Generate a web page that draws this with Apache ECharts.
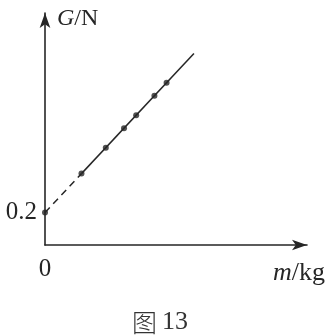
<!DOCTYPE html>
<html>
<head>
<meta charset="utf-8">
<script src="https://cdn.jsdelivr.net/npm/echarts@6/dist/echarts.min.js"></script>
<style>html,body{margin:0;padding:0;background:#fff}#c{width:329px;height:336px}</style>
</head>
<body>
<div id="c"></div>
<script>
// measured points (m in kg, G in N)
var massValues = [0.12, 0.20, 0.26, 0.30, 0.36, 0.40];
var weightValues = [0.44, 0.60, 0.72, 0.80, 0.92, 1.00];
var intercept = [0, 0.2];
var lineEnd = [0.49, 1.18];
var yTickLabel = '0.2';
var xTickLabel = '0';
var caption = '图 13';

var ink = '#262626';
var serif = '"Liberation Serif","DejaVu Serif",serif';
var pts = massValues.map(function (m, i) { return [m, weightValues[i]]; });
var capParts = caption.split(' ');

var chart = echarts.init(document.getElementById('c'), null, {renderer: 'canvas'});
chart.setOption({
  backgroundColor: '#fff',
  animation: false,
  title: {
    text: '{a|' + capParts[0] + '} {b|' + capParts[1] + '}',
    left: 127, top: 304,
    textStyle: {
      fontWeight: 'normal',
      rich: {
        a: {fontFamily: '"Noto Sans CJK SC"', fontSize: 25, fontWeight: 300, color: '#333'},
        b: {fontFamily: serif, fontSize: 26, fontWeight: 'normal', color: '#333'}
      }
    }
  },
  grid: {left: 45, right: 22, top: 13, bottom: 91, containLabel: false, outerBoundsMode: 'none'},
  xAxis: {
    type: 'value', min: 0, max: 0.862, interval: 0.2,
    axisLine: {show: true, symbol: ['none', 'arrow'], symbolSize: [8, 15], lineStyle: {color: ink, width: 1.6}},
    axisTick: {show: false}, splitLine: {show: false},
    axisLabel: {
      showMinLabel: true,
      formatter: function (v) { return v === 0 ? xTickLabel : ''; },
      margin: 12, fontFamily: serif, fontSize: 25, color: ink
    },
    name: '{i|m}/kg', nameLocation: 'end', nameGap: 0,
    nameTextStyle: {
      fontFamily: serif, fontSize: 26, color: ink,
      align: 'right', verticalAlign: 'top', padding: [15, -18, 0, 0],
      rich: {i: {fontFamily: serif, fontStyle: 'italic', fontSize: 26, color: ink}}
    }
  },
  yAxis: {
    type: 'value', min: 0, max: 1.43, interval: 0.2,
    axisLine: {show: true, symbol: ['none', 'arrow'], symbolSize: [8, 15], lineStyle: {color: ink, width: 1.6}},
    axisTick: {show: false}, splitLine: {show: false},
    axisLabel: {
      formatter: function (v) { return Math.abs(v - 0.2) < 1e-9 ? yTickLabel : ''; },
      margin: 8, fontFamily: serif, fontSize: 25, color: ink
    },
    name: '{i|G}/N', nameLocation: 'end', nameGap: 0,
    nameTextStyle: {
      fontFamily: serif, fontSize: 24, color: ink,
      align: 'left', verticalAlign: 'middle', padding: [0, 0, -12, 12],
      rich: {i: {fontFamily: serif, fontStyle: 'italic', fontSize: 24, color: ink}}
    }
  },
  series: [
    {
      type: 'line', data: [intercept, pts[0]], showSymbol: false, silent: true,
      lineStyle: {color: ink, width: 1.5, type: [7, 5]}
    },
    {
      type: 'line', data: [pts[0], lineEnd], showSymbol: false, silent: true,
      lineStyle: {color: ink, width: 1.5}
    },
    {
      type: 'scatter', data: [intercept].concat(pts), symbolSize: 6, silent: true,
      itemStyle: {color: ink}
    }
  ]
});
</script>
</body>
</html>
